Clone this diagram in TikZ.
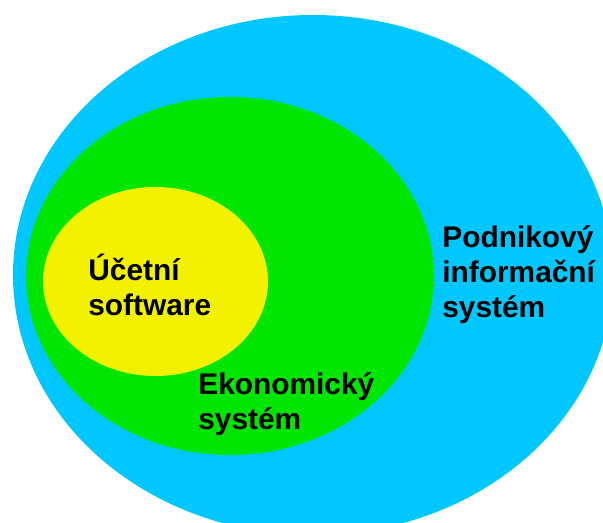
\documentclass[tikz,border=0pt]{standalone}
\usepackage{fontspec}
\setmainfont{Liberation Sans}
\definecolor{podnik}{RGB}{0,200,255}
\definecolor{ekonom}{RGB}{0,230,0}
\definecolor{ucet}{RGB}{242,242,0}
\tikzset{label/.style={anchor=base west, align=left, inner sep=0pt,
  font=\fontsize{17pt}{20pt}\selectfont\bfseries}}

\begin{document}
\begin{tikzpicture}[x=0.02cm, y=-0.02cm]
\useasboundingbox (0,0) rectangle (603,523);
\clip (0,0) rectangle (603,523);
\coordinate (P) at (313, 275);
\coordinate (E) at (230, 276);
\coordinate (U) at (155.5, 281.5);
\fill [podnik] (P) ellipse [x radius=300, y radius=260];
\fill [ekonom] (E) ellipse [x radius=204, y radius=179];
\fill [ucet] (U) ellipse [x radius=112.5, y radius=94.5];
\node (ucetni) at (88, 316) [label] {Účetní\\software};
\node (ekonomicky) at (198, 430) [label] {Ekonomický\\systém};
\node (podnikovy) at (442, 318) [label] {Podnikový\\informační\\systém};
\end{tikzpicture}
\end{document}
